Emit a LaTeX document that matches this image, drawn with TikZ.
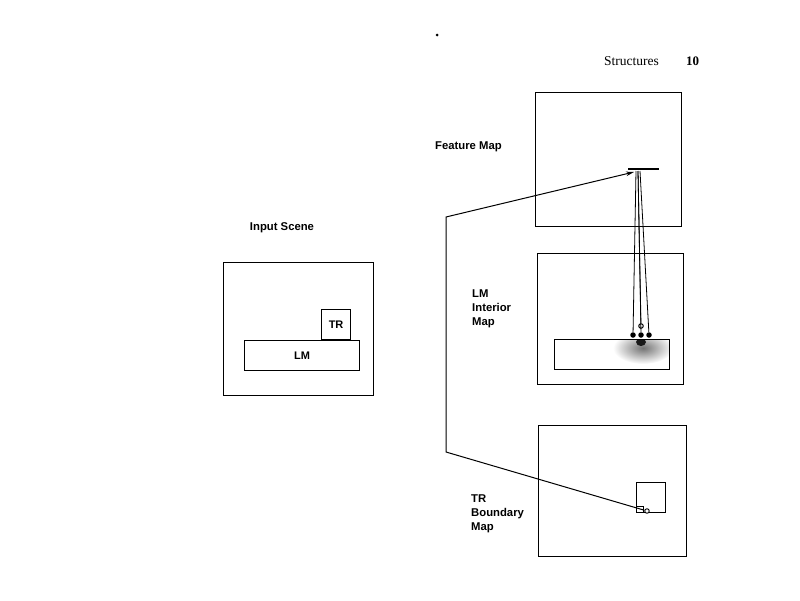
\documentclass[tikz,border=0pt]{standalone}
\usepackage{fontspec}
\setmainfont{Liberation Sans}
\newfontfamily\serifpage{Liberation Serif}
\usetikzlibrary{arrows.meta}
\begin{document}
\begin{tikzpicture}[x=1pt,y=-1pt,
  frame/.style={draw, line width=1.2pt, inner sep=0pt, anchor=north west},
  lbl/.style={font=\bfseries\fontsize{11.3}{14}\selectfont, align=left, inner sep=0pt},
  wire/.style={line width=1pt},
  thin/.style={line width=0.8pt}]
\useasboundingbox (0,0) rectangle (800,600);
% page header
\node[font=\serifpage\fontsize{13.5}{15}\selectfont, anchor=west, inner sep=0pt] (hdr) at (604,61) {Structures};
\node[font=\serifpage\bfseries\fontsize{13}{15}\selectfont, anchor=west, inner sep=0pt] (pg) at (686,61) {10};
\fill (437,35) circle (1.5);
% Input scene
\node[lbl] (inlab) at (282,228) {Input Scene};
\node[frame, minimum width=150, minimum height=133] (scene) at (223,262) {};
\node[frame, minimum width=29, minimum height=30, font=\bfseries\fontsize{11}{12}\selectfont] (tr) at (321,309) {TR};
\node[frame, minimum width=115, minimum height=30, font=\bfseries\fontsize{11}{12}\selectfont] (lm) at (244,340) {LM};
% Feature map
\node[lbl, anchor=west] (fmlab) at (435,147) {Feature Map};
\node[frame, minimum width=146, minimum height=134] (fmap) at (535,92) {};
\draw[line width=2.6pt] (628,169) -- (659,169);
\coordinate (fbar) at (634,172);
% LM interior map
\node[lbl, anchor=north west] (lmlab) at (472,290) {LM\\Interior\\Map};
\node[frame, minimum width=146, minimum height=131] (lmap) at (537,253) {};
\begin{scope}
\clip (554,339) rectangle (669,369);
\shade[inner color=black!55, outer color=white] (643,348) ellipse (30 and 16);
\fill[black!90] (641,342) ellipse (5 and 4);
\end{scope}
\node[draw, line width=1pt, inner sep=0pt, anchor=north west, minimum width=115, minimum height=30] (lmbar) at (554,339) {};
% feature lines
\coordinate (s1) at (636,171);
\coordinate (s2) at (638,171);
\coordinate (s3) at (640,171);
\node[circle, fill, inner sep=0pt, minimum size=5.5] (d1) at (633,335) {};
\node[circle, fill, inner sep=0pt, minimum size=5.5] (d2) at (641,335) {};
\node[circle, fill, inner sep=0pt, minimum size=5.5] (d3) at (649,335) {};
\node[draw, fill=white, circle, inner sep=0pt, minimum size=4.5, line width=1pt] (d4) at (641,326) {};
\draw[thin] (s1) -- (d1);
\draw[thin] (s2) -- (d4);
\draw[thin] (s3) -- (d3);
\draw[thin] (s2) -- (d2);
% TR boundary map
\node[lbl, anchor=north west] (trlab) at (471,495) {TR\\Boundary\\Map};
\node[frame, minimum width=148, minimum height=131] (tmap) at (538,425) {};
\node[draw, line width=1pt, inner sep=0pt, anchor=north west, minimum width=29, minimum height=30] (trbox) at (636,482) {};
\draw[line width=0.9pt] (636,506) rectangle (643,512);
\node[draw, fill=white, circle, inner sep=0pt, minimum size=4.5, line width=0.9pt] (tc) at (647,511) {};
% connector
\coordinate (c1) at (446,217);
\coordinate (c2) at (446,452);
\draw[wire, -{Stealth[length=8pt, width=4.5pt]}] (tc) -- (c2) -- (c1) -- (fbar);
\end{tikzpicture}
\end{document}
